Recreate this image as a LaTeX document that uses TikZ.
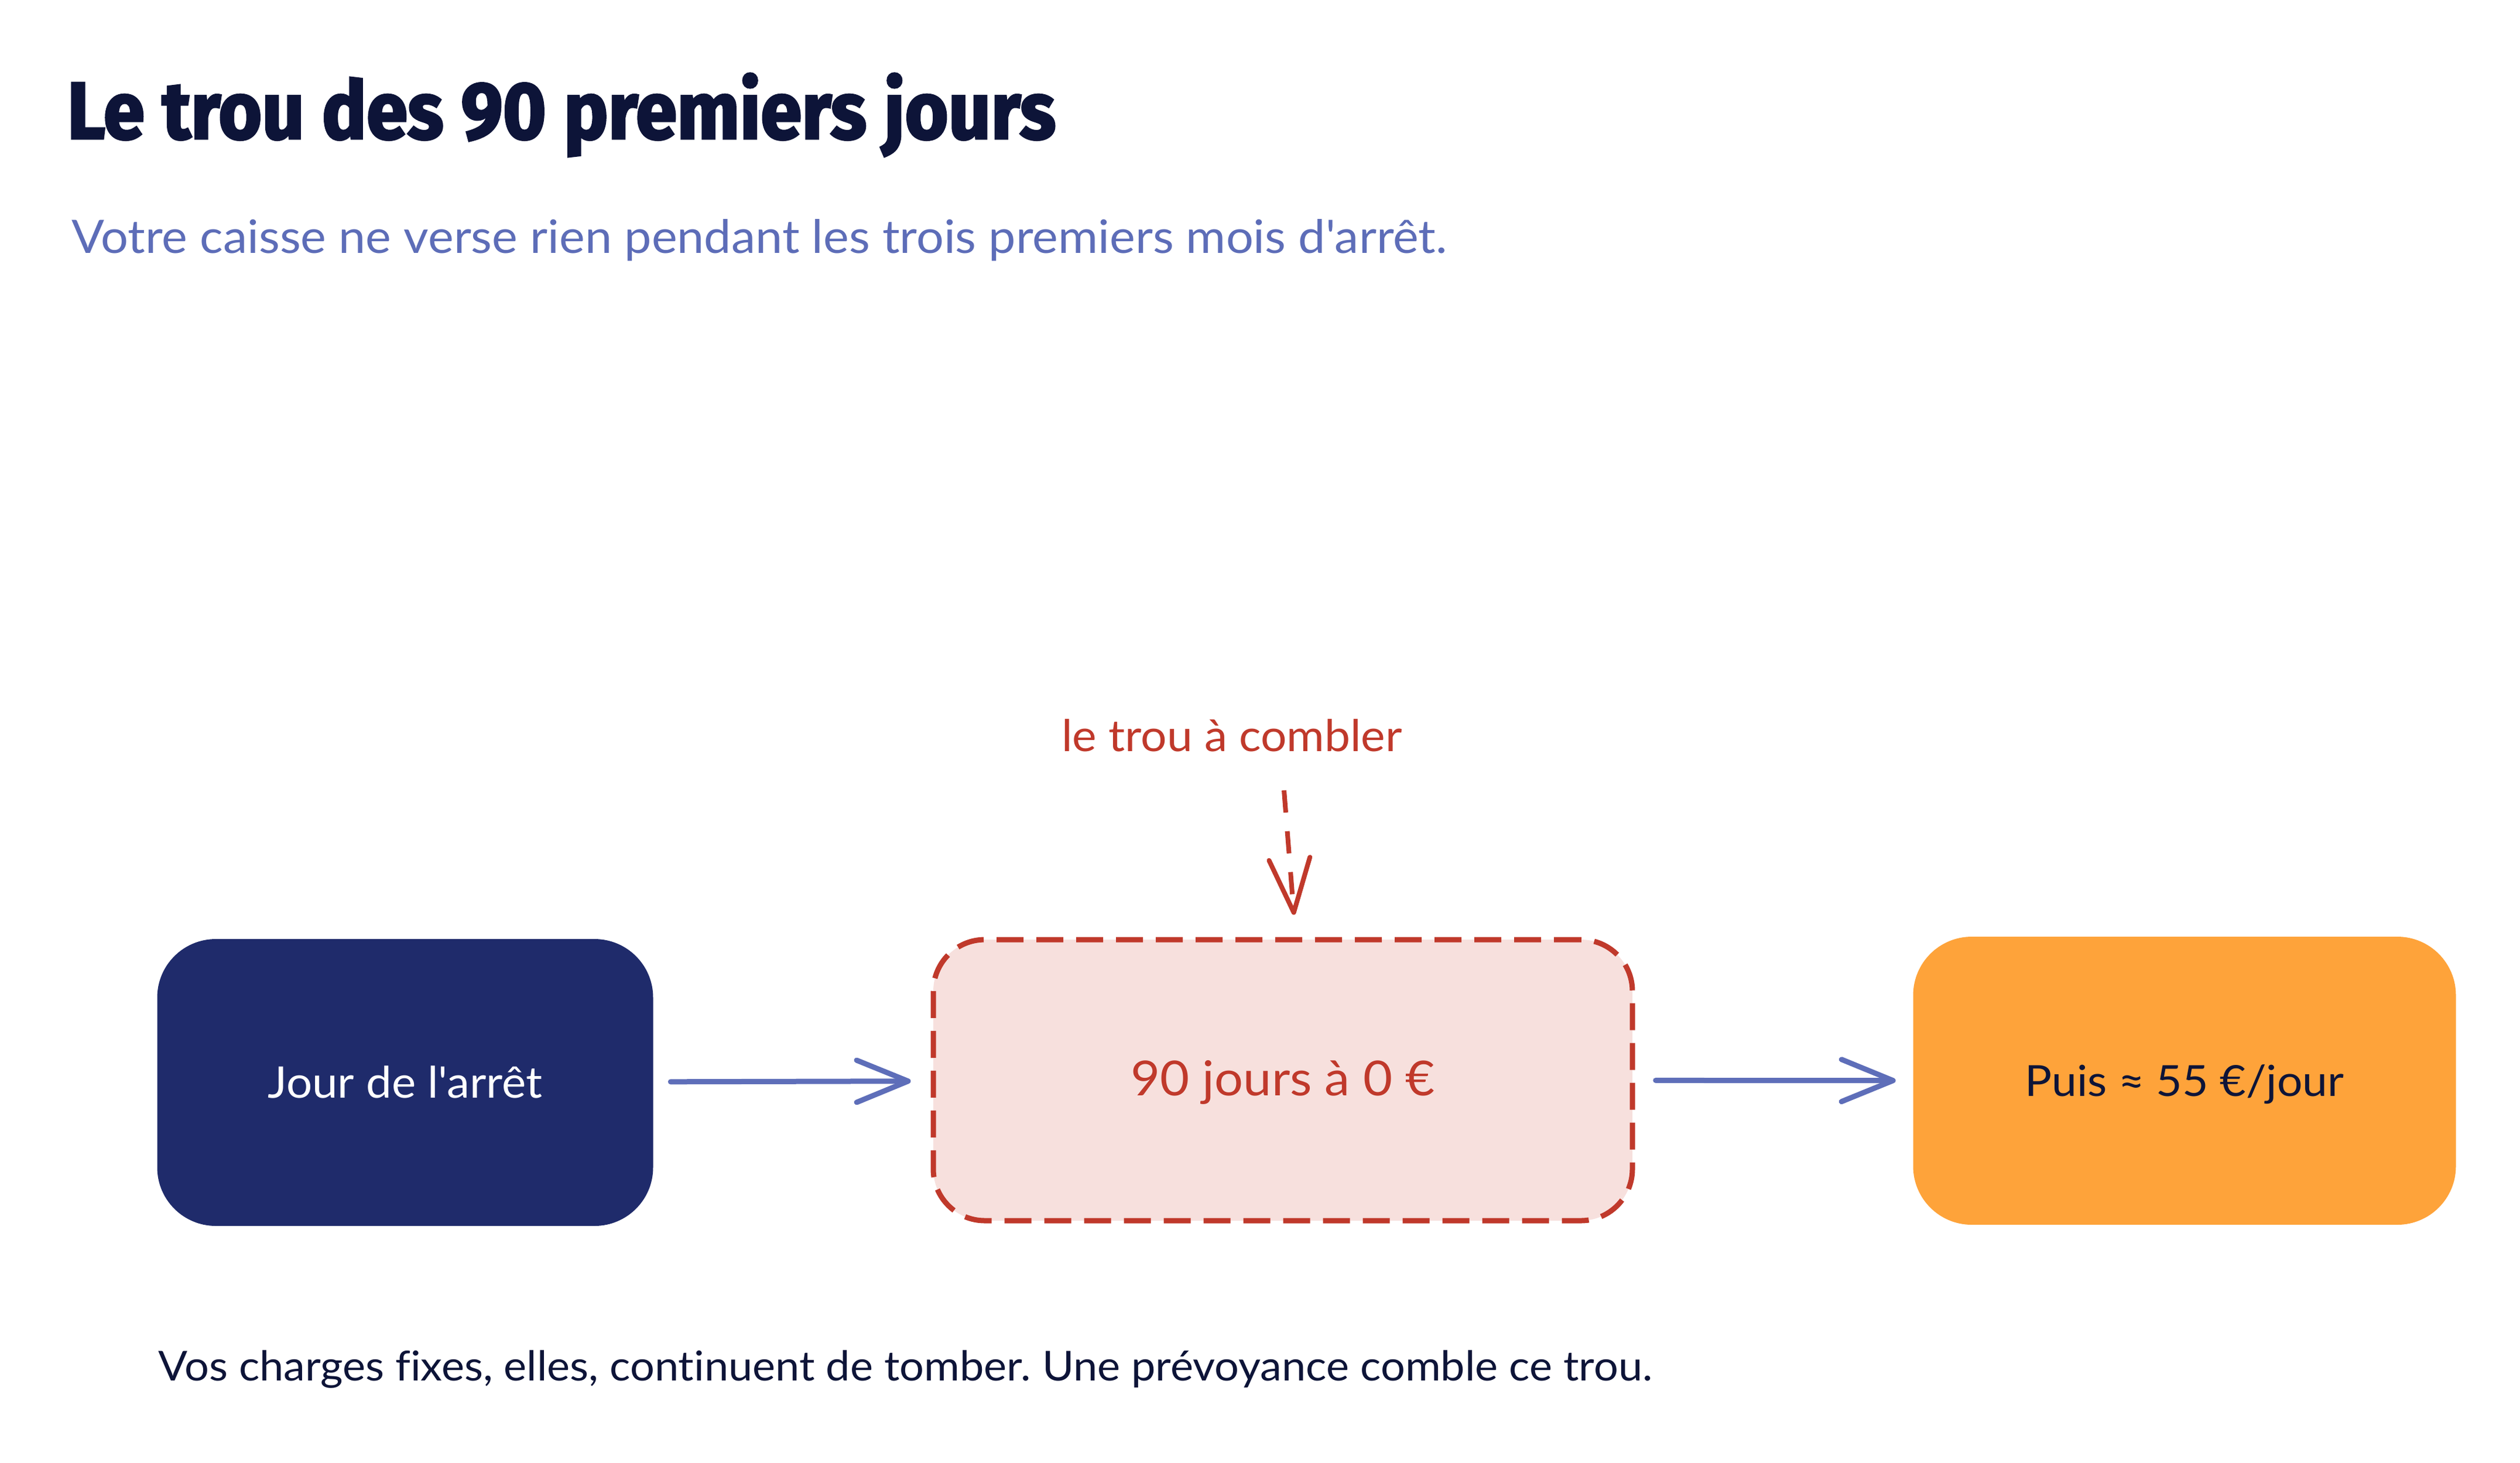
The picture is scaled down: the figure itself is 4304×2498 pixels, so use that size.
\documentclass[tikz,border=0pt]{standalone}
\usepackage{fontspec}
\setmainfont{Lato}[Ligatures={TeXOff,NoCommon},FakeStretch=1.05]
\newfontfamily\titlefont{Fira Sans}[FakeStretch=0.92,FakeBold=2.5]
\usetikzlibrary{arrows.meta,calc}
\frenchspacing
\definecolor{ink}{RGB}{13,20,56}
\definecolor{subblue}{RGB}{93,109,184}
\definecolor{navybox}{RGB}{31,43,107}
\definecolor{pinkfill}{RGB}{247,224,221}
\definecolor{gapred}{RGB}{192,57,43}
\definecolor{orangebox}{RGB}{254,163,58}
\definecolor{arrowblue}{RGB}{94,110,185}
\tikzset{
  boxbase/.style={rectangle, rounded corners=25pt, inner sep=0pt, align=center,
    text height=13pt, text depth=0pt},
  navystyle/.style={boxbase, fill=navybox, text=white,
    minimum width=211.75pt, minimum height=122.5pt, font=\fontsize{18.6}{22}\selectfont},
  gapstyle/.style={boxbase, fill=pinkfill, draw=gapred, line width=2.25pt,
    dash pattern=on 11.5pt off 5.5pt, rounded corners=22pt, text=gapred,
    minimum width=298.5pt, minimum height=120pt, font=\fontsize{20.6}{24}\selectfont},
  orangestyle/.style={boxbase, fill=orangebox, text=ink,
    minimum width=231.75pt, minimum height=123pt, font=\fontsize{18.3}{22}\selectfont},
  flowarrow/.style={draw=arrowblue, line width=2.25pt, line cap=round,
    -{Straight Barb[length=22pt,width=18pt,line cap=round,line join=round]}},
  gaparrow/.style={draw=gapred, line width=2pt, dash pattern=on 9.5pt off 8pt,
    -{Straight Barb[length=23pt,width=17.5pt,line cap=round,line join=round]}},
  plaintext/.style={inner sep=0pt, anchor=base west},
}
\begin{document}
\begin{tikzpicture}[x=0.25pt,y=-0.25pt]
\useasboundingbox[fill=white] (0,0) rectangle (4304,2498);

\node[plaintext, text=ink, font=\titlefont\bfseries\fontsize{34.5}{40}\selectfont]
  (title) at (114,237) {Le trou des 90 premiers jours};
\node[plaintext, text=subblue, font=\fontsize{19.7}{24}\selectfont]
  (subtitle) at (122,432) {Votre caisse ne verse rien pendant les trois premiers mois d'arrêt.};

\node[navystyle] (b1) at (692,1849) {Jour de l'arrêt};
\node[gapstyle] (b2) at (2191,1845) {90 jours à 0 €};
\node[orangestyle] (b3) at (3731,1846) {Puis ≈ 55 €/jour};

\node[inner sep=0pt, anchor=base, text=gapred, font=\fontsize{18.7}{22}\selectfont]
  (lbl) at (2104,1283) {le trou à combler};
\coordinate (gs) at (2193,1350);

\draw[flowarrow, shorten <=7.25pt, shorten >=8.5pt] (b1) -- (b2);
\draw[flowarrow, shorten <=8.8pt, shorten >=7.25pt] (b2) -- (b3);
\draw[gaparrow, shorten >=9.5pt] (gs) -- ($(b2.north)+(22,0)$);

\node[plaintext, text=ink, font=\fontsize{17.6}{21}\selectfont]
  (footer) at (270,2358) {Vos charges fixes, elles, continuent de tomber. Une prévoyance comble ce trou.};
\end{tikzpicture}
\end{document}
